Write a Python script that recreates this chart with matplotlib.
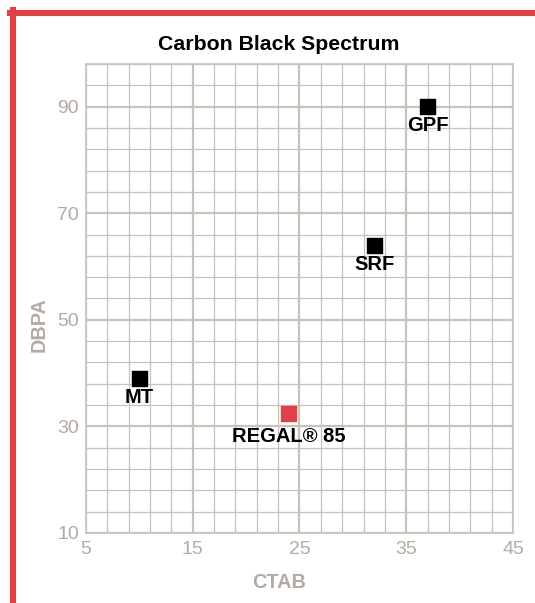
import matplotlib
matplotlib.use('Agg')
from matplotlib import pyplot as plt
from matplotlib.lines import Line2D

plt.rcParams['font.family'] = ['Liberation Sans', 'DejaVu Sans']

# grades on the carbon black map
grades = ['MT', 'REGAL® 85', 'SRF', 'GPF']
ctab = [10, 24, 32, 37]
dbpa = [39, 32.5, 64, 90]
colors = ['#000000', '#dc4248', '#000000', '#000000']

x_ticks = [5, 15, 25, 35, 45]
y_ticks = [10, 30, 50, 70, 90]

GRAY = '#b3aba3'
GRID = '#c9c2ba'
RED = '#dc4248'

fig = plt.figure(figsize=(5.35, 6.03), dpi=100)
ax = fig.add_axes([0.1607, 0.1161, 0.7982, 0.7778])

ax.set_xlim(5, 45)
ax.set_ylim(10, 98)

# grid
ax.set_xticks(x_ticks)
ax.set_yticks(y_ticks)
ax.set_xticks(range(5, 46, 2), minor=True)
ax.set_yticks(range(10, 99, 4), minor=True)
ax.grid(which='major', color=GRID, linewidth=1.6)
ax.grid(which='minor', color=GRID, linewidth=0.9)
ax.set_axisbelow(True)
for s in ax.spines.values():
    s.set_color(GRID)
    s.set_linewidth(1.2)
ax.tick_params(which='both', length=0, labelsize=14, labelcolor=GRAY)
ax.tick_params(axis='x', pad=6)
ax.tick_params(axis='y', pad=5)

# points and labels
ax.scatter(ctab, dbpa, marker='s', s=118, c=colors, zorder=3)
for name, x, y in zip(grades, ctab, dbpa):
    off = -10 if name.startswith('REGAL') else -7
    ax.annotate(name, (x, y), xytext=(0, off), textcoords='offset points',
                ha='center', va='top', fontsize=14.5, fontweight='bold',
                color='black', zorder=4)

# title and axis labels sit a bit left of the plot centre
ax.set_title('Carbon Black Spectrum', fontsize=15.3, fontweight='bold',
             x=0.452, pad=10)
ax.set_xlabel('CTAB', fontsize=14.3, fontweight='bold', color=GRAY)
ax.xaxis.set_label_coords(0.452, -0.1045)
ax.xaxis.label.set_va('center')
ax.set_ylabel('DBPA', fontsize=14.3, fontweight='bold', color=GRAY)
ax.yaxis.set_label_coords(-0.110, 0.4435)
ax.yaxis.label.set_va('center')

# red frame on top and left
fig.add_artist(Line2D([10 / 535, 1], [1 - 13 / 603, 1 - 13 / 603],
                      transform=fig.transFigure, color=RED, linewidth=4.4))
fig.add_artist(Line2D([13 / 535, 13 / 535], [0, 1 - 10 / 603],
                      transform=fig.transFigure, color=RED, linewidth=4.4))

fig.savefig('out.png', dpi=100)
